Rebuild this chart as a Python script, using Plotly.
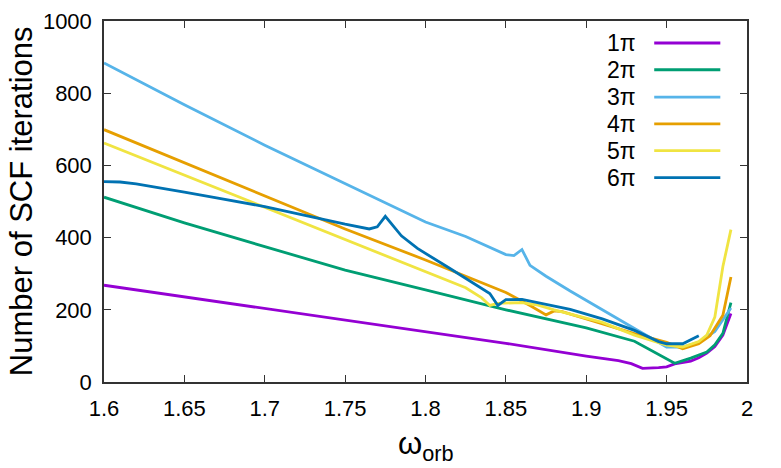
import plotly.graph_objects as go

# ---- data ----
x1 = [1.60, 1.65, 1.70, 1.75, 1.80, 1.85, 1.90, 1.92, 1.928, 1.935, 1.945, 1.95, 1.955, 1.96, 1.965, 1.97, 1.975, 1.98, 1.985, 1.99]
y1 = [268, 236, 203, 172, 141, 107, 72, 59, 51, 38, 40, 42, 50, 55, 58, 67, 80, 98, 130, 190]

x2 = [1.60, 1.65, 1.70, 1.75, 1.80, 1.85, 1.90, 1.93, 1.955, 1.965, 1.975, 1.98, 1.985, 1.99]
y2 = [512, 441, 375, 310, 255, 200, 150, 113, 52, 66, 83, 103, 135, 220]

x3 = [1.60, 1.65, 1.70, 1.75, 1.80, 1.825, 1.845, 1.85, 1.855, 1.86, 1.865, 1.875, 1.89, 1.91, 1.93, 1.95, 1.96, 1.97, 1.98, 1.99]
y3 = [884, 768, 656, 549, 443, 403, 362, 353, 350, 367, 323, 293, 252, 199, 148, 97, 97, 110, 140, 205]

x4 = [1.60, 1.65, 1.70, 1.75, 1.80, 1.85, 1.865, 1.875, 1.88, 1.885, 1.90, 1.93, 1.95, 1.96, 1.97, 1.977, 1.985, 1.99]
y4 = [699, 607, 515, 424, 338, 248, 212, 186, 197, 195, 175, 134, 110, 92, 106, 128, 185, 291]

x5 = [1.60, 1.65, 1.70, 1.75, 1.80, 1.825, 1.835, 1.84, 1.845, 1.86, 1.87, 1.88, 1.91, 1.93, 1.95, 1.96, 1.97, 1.975, 1.98, 1.985, 1.99]
y5 = [662, 573, 484, 394, 305, 261, 233, 212, 218, 220, 213, 200, 165, 130, 102, 97, 112, 130, 180, 320, 422]

x6 = [1.60, 1.61, 1.62, 1.63, 1.64, 1.65, 1.67, 1.70, 1.75, 1.765, 1.77, 1.775, 1.785, 1.795, 1.815, 1.83, 1.84, 1.845, 1.85, 1.86, 1.87, 1.89, 1.91, 1.93, 1.945, 1.95, 1.96, 1.97]
y6 = [555, 554, 549, 542, 534, 526, 510, 486, 437, 424, 430, 459, 405, 370, 315, 272, 245, 212, 228, 229, 220, 201, 175, 143, 112, 106, 106, 128]

names = ["1π", "2π", "3π", "4π", "5π", "6π"]
colors = ["#9400d3", "#009e73", "#56b4e9", "#e69f00", "#f0e442", "#0072b2"]

x_ticks = [1.6, 1.65, 1.7, 1.75, 1.8, 1.85, 1.9, 1.95, 2]
x_ticklabels = ["1.6", "1.65", "1.7", "1.75", "1.8", "1.85", "1.9", "1.95", "2"]
y_ticks = [0, 200, 400, 600, 800, 1000]

FONT = "Liberation Sans, Arial, sans-serif"

fig = go.Figure()
series = [(x1, y1), (x2, y2), (x3, y3), (x4, y4), (x5, y5), (x6, y6)]
for (xs, ys), nm, c in zip(series, names, colors):
    fig.add_trace(go.Scatter(x=xs, y=ys, mode="lines", name=nm,
                             line=dict(color=c, width=2.8), showlegend=False))

# manual gnuplot-style key (text then line sample)
key_y = [0.939, 0.865, 0.789, 0.715, 0.641, 0.566]
for nm, c, ky in zip(names, colors, key_y):
    fig.add_annotation(x=0.831, y=ky, xref="paper", yref="paper", text=nm,
                       showarrow=False, xanchor="right", yanchor="middle",
                       font=dict(family=FONT, size=23, color="black"))
    fig.add_shape(type="line", xref="paper", yref="paper",
                  x0=0.8557, x1=0.9585, y0=ky, y1=ky,
                  line=dict(color=c, width=2.8))

axis_common = dict(showline=True, linecolor="#333333", linewidth=1.5, mirror="ticks",
                   ticks="inside", ticklen=7, tickwidth=1.2, tickcolor="#333333",
                   showgrid=False, zeroline=False, automargin=False,
                   tickfont=dict(family=FONT, size=22, color="black"))

fig.update_xaxes(range=[1.6, 2], tickvals=x_ticks, ticktext=x_ticklabels,
                 ticklabelstandoff=6, **axis_common)
fig.update_yaxes(range=[0, 1000], tickvals=y_ticks, ticklabelstandoff=6, **axis_common)

fig.add_annotation(x=-0.128, y=0.5, xref="paper", yref="paper",
                   text="Number of SCF iterations", textangle=-90, showarrow=False,
                   xanchor="center", yanchor="middle",
                   font=dict(family=FONT, size=31, color="black"))
fig.add_annotation(x=0.5, y=-0.117, xref="paper", yref="paper",
                   text="ω<sub>orb</sub>", showarrow=False,
                   xanchor="center", yanchor="top",
                   font=dict(family=FONT, size=31, color="black"))

# page body has an 8px margin, so the figure is made 8px smaller and shifted
fig.update_layout(width=773, height=460, plot_bgcolor="white", paper_bgcolor="white",
                  margin=dict(l=96, r=34, t=13, b=86))

fig.write_html("out.html")
